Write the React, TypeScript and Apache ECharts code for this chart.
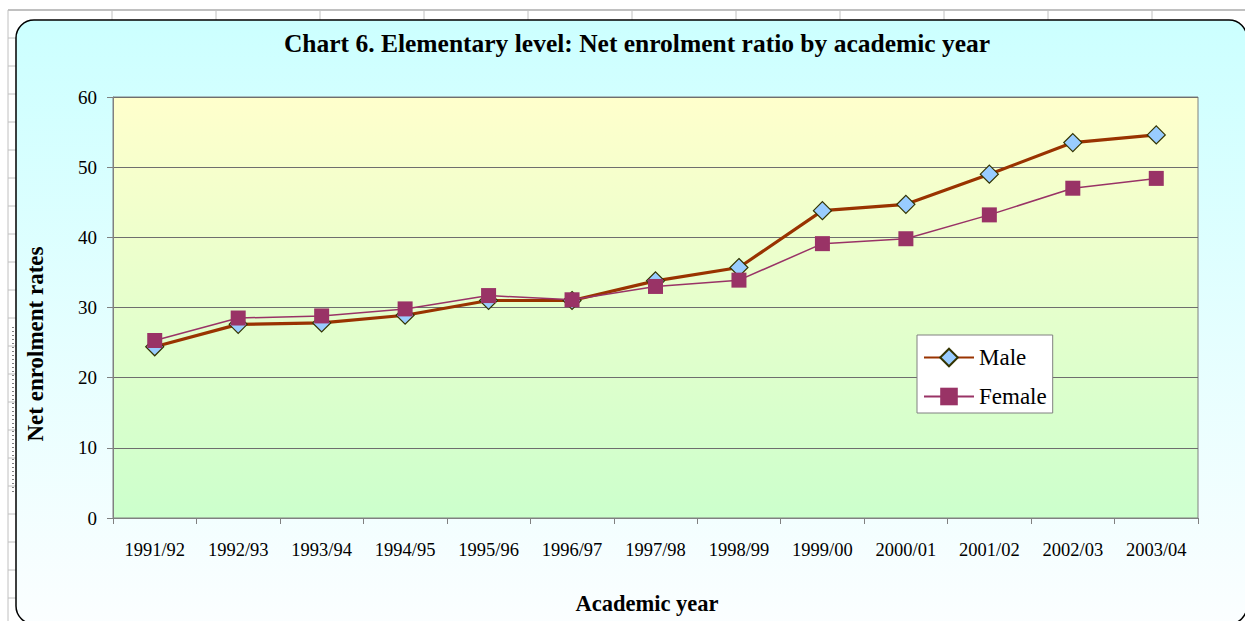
import React, { useEffect, useRef } from "react";
import * as echarts from "echarts";

const categories = [
  "1991/92", "1992/93", "1993/94", "1994/95", "1995/96", "1996/97", "1997/98",
  "1998/99", "1999/00", "2000/01", "2001/02", "2002/03", "2003/04",
];
const maleValues = [24.4, 27.6, 27.8, 28.9, 31.0, 31.0, 33.8, 35.7, 43.8, 44.7, 49.0, 53.5, 54.6];
const femaleValues = [25.3, 28.5, 28.8, 29.8, 31.7, 31.1, 33.0, 33.9, 39.1, 39.8, 43.2, 47.0, 48.4];
const yTicks = { min: 0, max: 60, interval: 10 };
const titleText = "Chart 6. Elementary level: Net enrolment ratio by academic year";
const yAxisTitle = "Net enrolment rates";
const xAxisTitle = "Academic year";

const W = 1245;
const H = 621;
const SERIF = "'Liberation Serif', 'Times New Roman', serif";

function sheetGrid(): any[] {
  const els: any[] = [];
  for (let y = 10; y < H; y += 28) {
    els.push({
      type: "line",
      z: -20,
      shape: { x1: 8, y1: y, x2: W, y2: y },
      style: { stroke: "#c0c0c0", lineWidth: y === 10 ? 2 : 1 },
      silent: true,
    });
  }
  for (let x = 8; x < W; x += 104) {
    els.push({
      type: "line",
      z: -20,
      shape: { x1: x, y1: 10, x2: x, y2: H },
      style: { stroke: "#c0c0c0", lineWidth: 1 },
      silent: true,
    });
  }
  return els;
}

export default function App() {
  const ref = useRef<HTMLDivElement>(null);
  useEffect(() => {
    if (!ref.current) return;
    const chart = echarts.init(ref.current, null, { renderer: "svg" });
    const option: any = {
      animation: false,
      backgroundColor: "#ffffff",
      title: {
        text: titleText,
        left: 637,
        top: 30,
        padding: 0,
        textAlign: "center",
        textStyle: { fontFamily: SERIF, fontSize: 25.5, fontWeight: "bold", color: "#000" },
      },
      graphic: [
        ...sheetGrid(),
        {
          type: "rect",
          z: -10,
          silent: true,
          shape: { x: 16, y: 20, width: 1231, height: 604, r: 18 },
          style: {
            fill: new echarts.graphic.LinearGradient(0, 0, 0, 1, [
              { offset: 0, color: "#ccffff" },
              { offset: 1, color: "#fbfeff" },
            ]),
            stroke: "#000",
            lineWidth: 1.5,
          },
        },
        {
          type: "line",
          z: -5,
          silent: true,
          shape: { x1: 13, y1: 327, x2: 13, y2: 495 },
          style: { stroke: "#000", lineWidth: 1, lineDash: [1, 3] },
        },
        {
          type: "text",
          z: 50,
          x: 35,
          y: 344,
          rotation: Math.PI / 2,
          style: {
            text: yAxisTitle,
            fontFamily: SERIF,
            fontSize: 23,
            fontWeight: "bold",
            fill: "#000",
            align: "center",
            verticalAlign: "middle",
          },
        },
        {
          type: "text",
          z: 50,
          x: 647,
          y: 603,
          style: {
            text: xAxisTitle,
            fontFamily: SERIF,
            fontSize: 22.5,
            fontWeight: "bold",
            fill: "#000",
            align: "center",
            verticalAlign: "middle",
          },
        },
      ],
      grid: {
        left: 113,
        top: 97,
        right: W - 1198,
        bottom: H - 518,
        show: true,
        backgroundColor: new echarts.graphic.LinearGradient(0, 0, 0, 1, [
          { offset: 0, color: "#ffffcc" },
          { offset: 1, color: "#ccffcc" },
        ]),
        borderColor: "#808080",
        borderWidth: 1,
      },
      legend: {
        orient: "vertical",
        left: 917,
        top: 335,
        padding: [11, 6, 5, 6],
        itemGap: 16,
        itemWidth: 50,
        itemHeight: 22,
        backgroundColor: "#ffffff",
        borderColor: "#808080",
        borderWidth: 1,
        textStyle: { fontFamily: SERIF, fontSize: 23, color: "#000", padding: [0, 0, 0, 0] },
        data: ["Male", "Female"],
      },
      xAxis: {
        type: "category",
        data: categories,
        boundaryGap: true,
        axisLine: { show: true, lineStyle: { color: "#808080", width: 1 } },
        axisTick: { show: true, length: 6, lineStyle: { color: "#808080" } },
        axisLabel: { fontFamily: SERIF, fontSize: 18.5, color: "#000", margin: 22, interval: 0 },
        splitLine: { show: false },
      },
      yAxis: {
        type: "value",
        min: yTicks.min,
        max: yTicks.max,
        interval: yTicks.interval,
        axisLine: { show: true, lineStyle: { color: "#808080", width: 1 } },
        axisTick: { show: true, length: 6, lineStyle: { color: "#808080" } },
        axisLabel: { fontFamily: SERIF, fontSize: 19, color: "#000", margin: 16 },
        splitLine: { show: true, lineStyle: { color: "#6e6e6e", width: 1 } },
      },
      series: [
        {
          name: "Male",
          type: "line",
          data: maleValues,
          symbol: "diamond",
          symbolSize: 18,
          lineStyle: { color: "#993300", width: 3.2 },
          itemStyle: { color: "#99ccff", borderColor: "#333300", borderWidth: 1.2 },
          z: 3,
        },
        {
          name: "Female",
          type: "line",
          data: femaleValues,
          symbol: "rect",
          symbolSize: 15,
          lineStyle: { color: "#993366", width: 1.5 },
          itemStyle: { color: "#993366", borderColor: "#993366", borderWidth: 0 },
          z: 4,
        },
      ],
    };
    chart.setOption(option);
    return () => chart.dispose();
  }, []);
  return (
    <div
      ref={ref}
      style={{ position: "fixed", left: 0, top: 0, width: W, height: H }}
    />
  );
}
